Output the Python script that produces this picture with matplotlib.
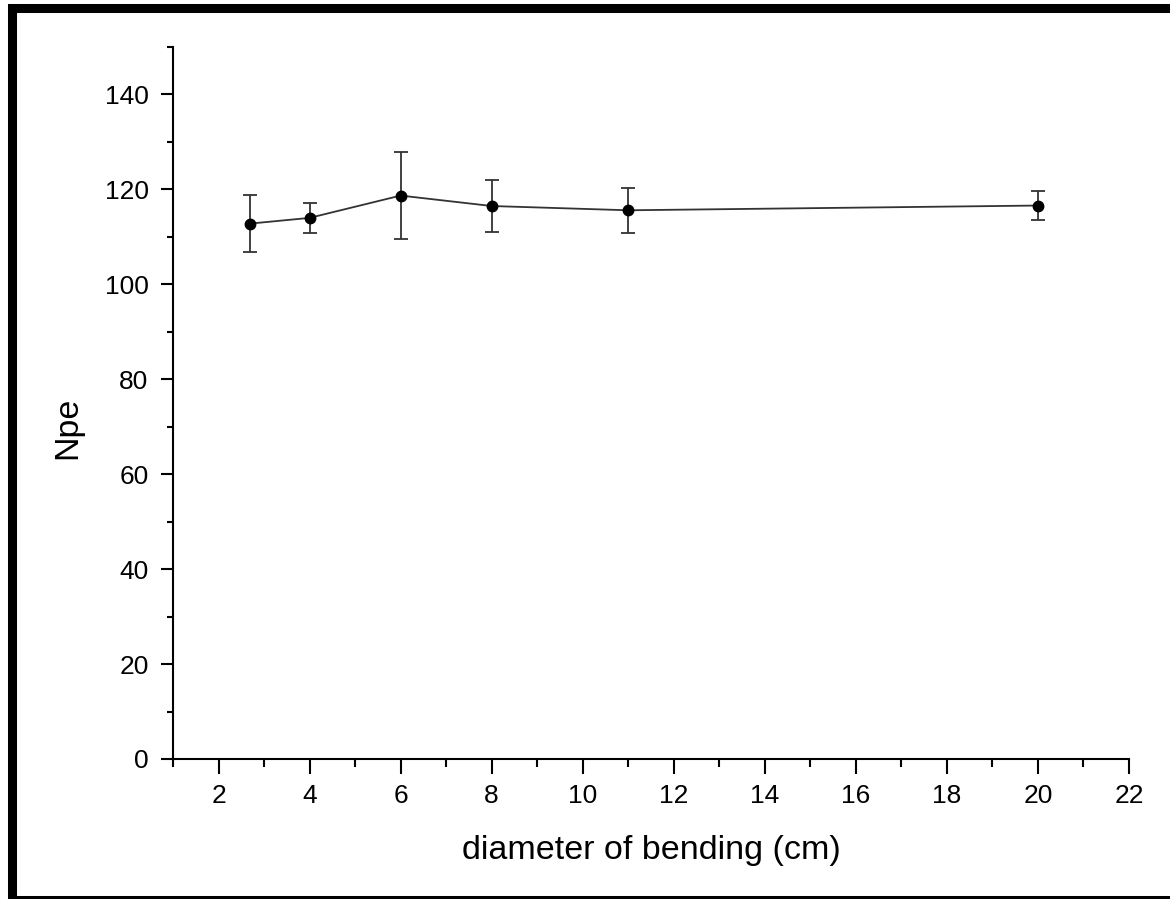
import matplotlib.pyplot as plt
from matplotlib.patches import Rectangle
from matplotlib.ticker import MultipleLocator

plt.rcParams['font.family'] = ['Liberation Sans', 'DejaVu Sans']

# bending diameter (cm) vs number of photoelectrons
diameter = [2.7, 4, 6, 8, 11, 20]
npe = [112.8, 114.0, 118.7, 116.5, 115.6, 116.6]
npe_err = [6.0, 3.1, 9.1, 5.5, 4.7, 3.0]

fig = plt.figure(figsize=(11.7, 8.99), dpi=100)
ax = fig.add_axes([173 / 1170, 140 / 899, 956 / 1170, 712 / 899])

ax.plot(diameter, npe, color='#333333', lw=1.3, zorder=2)
ax.errorbar(diameter, npe, yerr=npe_err, fmt='o', color='black', ms=7.5,
            ecolor='#333333', elinewidth=1.3, capsize=5, capthick=1.3, zorder=3)

ax.set_xlim(1, 22)
ax.set_ylim(0, 150)
ax.xaxis.set_minor_locator(MultipleLocator(1))
ax.yaxis.set_minor_locator(MultipleLocator(10))
ax.set_xticks(range(2, 23, 2))
ax.set_yticks(range(0, 141, 20))

for s in ['top', 'right']:
    ax.spines[s].set_visible(False)
for s in ['left', 'bottom']:
    ax.spines[s].set_linewidth(1.5)

ax.tick_params(axis='x', which='major', direction='out', length=10.8, width=1.5,
               labelsize=19, pad=7)
ax.tick_params(axis='x', which='minor', direction='out', length=5.8, width=1.5)
ax.tick_params(axis='y', which='major', direction='out', length=8.6, width=1.5,
               labelsize=19, pad=9)
ax.tick_params(axis='y', which='minor', direction='out', length=4.3, width=1.5)

ax.set_xlabel('diameter of bending (cm)', fontsize=24.5, labelpad=20)
ax.set_ylabel('Npe', fontsize=24.5, labelpad=15, y=0.465)

# thick frame around the whole picture
fig.patches.append(Rectangle((11.5 / 1170, -0.5 / 899), 1.2, 1 - 7.5 / 899,
                             transform=fig.transFigure, fill=False,
                             edgecolor='black', lw=6.5))

fig.savefig('out.png', dpi=100)
